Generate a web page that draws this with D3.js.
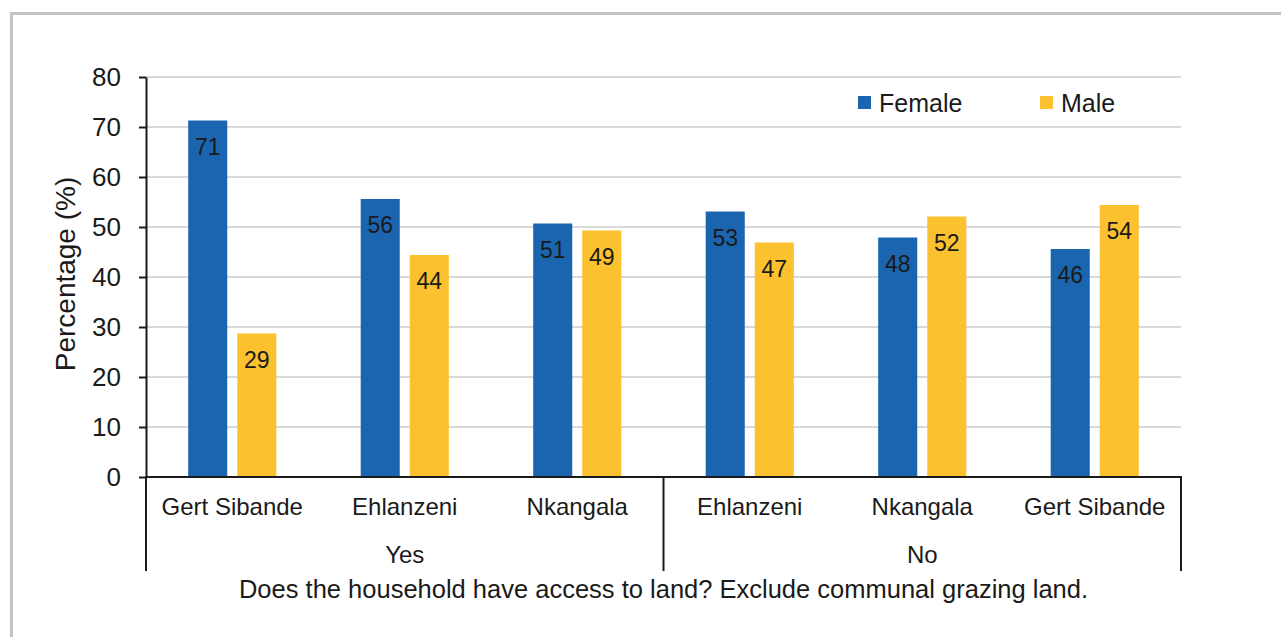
<!DOCTYPE html>
<html>
<head>
<meta charset="utf-8">
<script src="https://cdn.jsdelivr.net/npm/d3@7"></script>
<style>
  html, body { margin: 0; padding: 0; background: #fff; }
  svg { display: block; }
  text { font-family: "Liberation Sans", Arial, sans-serif; fill: #1a1a1a; }
</style>
</head>
<body>
<div id="chart"></div>
<script>
// data
var groups = ["Yes", "No"];
var districts = ["Gert Sibande", "Ehlanzeni", "Nkangala", "Ehlanzeni", "Nkangala", "Gert Sibande"];
var groupOf = ["Yes", "Yes", "Yes", "No", "No", "No"];
var female = [71.3, 55.6, 50.7, 53.1, 47.9, 45.6];
var male = [28.7, 44.4, 49.3, 46.9, 52.1, 54.4];
var seriesNames = ["Female", "Male"];
var yTicks = [0, 10, 20, 30, 40, 50, 60, 70, 80];
var xTitle = "Does the household have access to land? Exclude communal grazing land.";
var yTitle = "Percentage (%)";

var W = 1281, H = 637;
var colors = {Female: "#1b65b0", Male: "#fbc12f"};

var svg = d3.select("#chart").append("svg")
    .attr("width", W)
    .attr("height", H);

// frame
svg.append("rect")
    .attr("x", 11.5).attr("y", 13.5)
    .attr("width", W).attr("height", H)
    .attr("fill", "#fff")
    .attr("stroke", "#c3c3c3")
    .attr("stroke-width", 3);

var keys = districts.map(function (d, i) { return i; });
var rows = keys.map(function (i) {
    return {i: i, district: districts[i], group: groupOf[i], Female: female[i], Male: male[i]};
});

// scales
var x0 = d3.scaleBand()
    .domain(keys)
    .range([146, 1181])
    .padding(0);
var x1 = d3.scaleBand()
    .domain(seriesNames)
    .range([0, x0.bandwidth()])
    .paddingInner(0.204)
    .paddingOuter(0.86);
var y = d3.scaleLinear()
    .domain([0, 80])
    .range([477, 77]);

// gridlines
svg.append("g")
    .selectAll("line")
    .data(yTicks.filter(function (t) { return t > 0; }))
    .enter().append("line")
    .attr("x1", 146).attr("x2", 1181)
    .attr("y1", function (d) { return y(d); })
    .attr("y2", function (d) { return y(d); })
    .attr("stroke", "#d9d9d9")
    .attr("stroke-width", 2);

// bars
var cat = svg.append("g").selectAll("g")
    .data(rows)
    .enter().append("g")
    .attr("transform", function (d) { return "translate(" + x0(d.i) + ",0)"; });

cat.selectAll("rect")
    .data(function (d) { return seriesNames.map(function (s) { return {s: s, v: d[s]}; }); })
    .enter().append("rect")
    .attr("x", function (d) { return x1(d.s); })
    .attr("width", x1.bandwidth())
    .attr("y", function (d) { return y(d.v); })
    .attr("height", function (d) { return y(0) - y(d.v); })
    .attr("fill", function (d) { return colors[d.s]; });

cat.selectAll("text")
    .data(function (d) { return seriesNames.map(function (s) { return {s: s, v: d[s]}; }); })
    .enter().append("text")
    .attr("x", function (d) { return x1(d.s) + x1.bandwidth() / 2; })
    .attr("y", function (d) { return y(d.v) + 34; })
    .attr("text-anchor", "middle")
    .style("font-size", "23px")
    .text(function (d) { return d3.format(".0f")(d.v); });

// y axis
var yAxis = d3.axisLeft(y)
    .tickValues(yTicks)
    .tickSize(7)
    .tickSizeOuter(0)
    .tickPadding(18);
var gy = svg.append("g")
    .attr("transform", "translate(146,0)")
    .call(yAxis);
gy.select(".domain").attr("stroke", "#1a1a1a").attr("stroke-width", 2);
gy.selectAll(".tick line").attr("stroke", "#1a1a1a").attr("stroke-width", 2);
gy.selectAll(".tick text")
    .style("font-size", "26px")
    .style("font-family", "'Liberation Sans', Arial, sans-serif")
    .attr("fill", "#1a1a1a");

svg.append("text")
    .attr("transform", "translate(75,274) rotate(-90)")
    .attr("text-anchor", "middle")
    .style("font-size", "28px")
    .text(yTitle);

// category axis (two levels)
var axisG = svg.append("g")
    .attr("stroke", "#1a1a1a")
    .attr("stroke-width", 2);
axisG.append("line")
    .attr("x1", 145).attr("x2", 1182)
    .attr("y1", y(0)).attr("y2", y(0));

var bounds = [x0(0), x0(3), x0(5) + x0.bandwidth()];
axisG.selectAll(".sep")
    .data(bounds)
    .enter().append("line")
    .attr("class", "sep")
    .attr("x1", function (d) { return d; })
    .attr("x2", function (d) { return d; })
    .attr("y1", y(0))
    .attr("y2", 571);

svg.append("g").selectAll("text")
    .data(rows)
    .enter().append("text")
    .attr("x", function (d) { return x0(d.i) + x0.bandwidth() / 2; })
    .attr("y", 515)
    .attr("text-anchor", "middle")
    .style("font-size", "24px")
    .text(function (d) { return d.district; });

svg.append("g").selectAll("text")
    .data(groups)
    .enter().append("text")
    .attr("x", function (g) {
        var idx = keys.filter(function (i) { return groupOf[i] === g; });
        return (x0(idx[0]) + x0(idx[idx.length - 1]) + x0.bandwidth()) / 2;
    })
    .attr("y", 563)
    .attr("text-anchor", "middle")
    .style("font-size", "24px")
    .text(function (d) { return d; });

svg.append("text")
    .attr("x", (146 + 1181) / 2)
    .attr("y", 598)
    .attr("text-anchor", "middle")
    .style("font-size", "25.5px")
    .text(xTitle);

// legend
var legendX = [858, 1040];
var legend = svg.selectAll(".legend")
    .data(seriesNames)
    .enter().append("g")
    .attr("class", "legend")
    .attr("transform", function (d, i) { return "translate(" + legendX[i] + ",96)"; });
legend.append("rect")
    .attr("width", 13)
    .attr("height", 13)
    .attr("fill", function (d) { return colors[d]; });
legend.append("text")
    .attr("x", 21)
    .attr("y", 16)
    .style("font-size", "25px")
    .text(function (d) { return d; });
</script>
</body>
</html>
